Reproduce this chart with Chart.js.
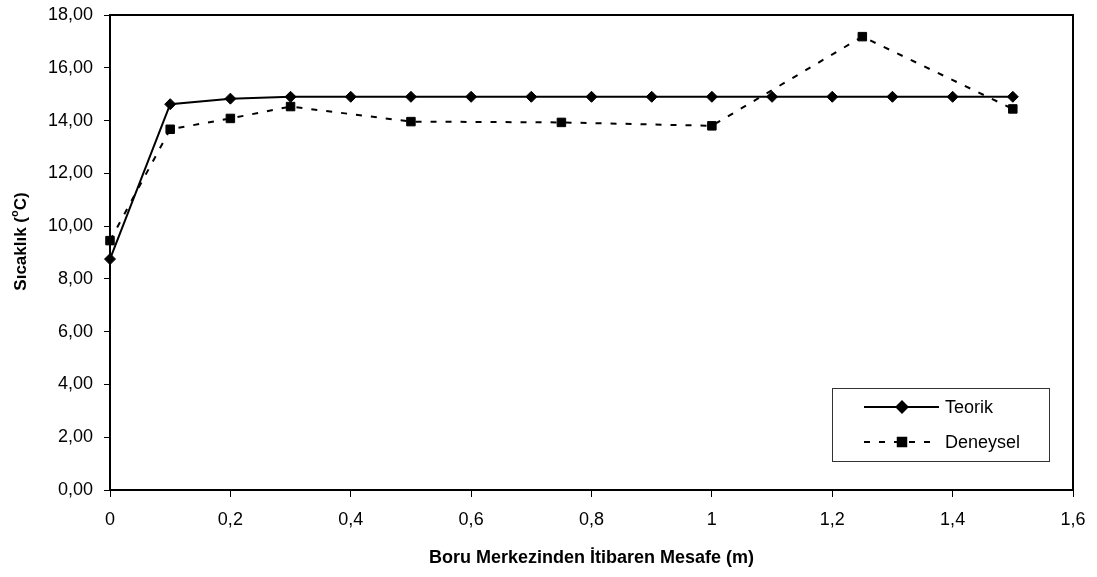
<!DOCTYPE html>
<html>
<head>
<meta charset="utf-8">
<script src="https://cdn.jsdelivr.net/npm/chart.js@4"></script>
<style>
  html, body { margin: 0; padding: 0; background: #fff; }
  #wrap { width: 1097px; height: 577px; }
</style>
</head>
<body>
<div id="wrap"><canvas id="tempChart" width="1097" height="577"></canvas></div>
<script>
// distances (m) and temperatures (°C)
const teorikX = [0, 0.1, 0.2, 0.3, 0.4, 0.5, 0.6, 0.7, 0.8, 0.9, 1.0, 1.1, 1.2, 1.3, 1.4, 1.5];
const teorikY = [8.75, 14.62, 14.83, 14.90, 14.90, 14.90, 14.90, 14.90, 14.90, 14.90, 14.90, 14.90, 14.90, 14.90, 14.90, 14.90];
const deneyselX = [0, 0.1, 0.2, 0.3, 0.5, 0.75, 1.0, 1.25, 1.5];
const deneyselY = [9.45, 13.67, 14.08, 14.53, 13.96, 13.93, 13.80, 17.18, 14.44];
const xTicks = [0, 0.2, 0.4, 0.6, 0.8, 1.0, 1.2, 1.4, 1.6];
const yTicks = [0, 2, 4, 6, 8, 10, 12, 14, 16, 18];

const FONT = '"Liberation Sans", Arial, sans-serif';
const toPoints = (xs, ys) => xs.map((x, i) => ({ x, y: ys[i] }));

// box around the plot area
const frame = {
    id: 'frame',
    afterDatasetsDraw(chart) {
        const { ctx, chartArea: a } = chart;
        ctx.save();
        ctx.strokeStyle = '#000';
        ctx.lineWidth = 2;
        ctx.strokeRect(a.left, a.top, a.right - a.left, a.bottom - a.top);
        ctx.restore();
    }
};

// rotated y title with superscript "o"
const yTitle = {
    id: 'yTitle',
    afterDraw(chart) {
        const { ctx, chartArea: a } = chart;
        const big = 'bold 17px ' + FONT;
        const small = 'bold 11px ' + FONT;
        const parts = [['Sıcaklık (', big, 0], ['o', small, -6], ['C)', big, 0]];
        ctx.save();
        let total = 0;
        parts.forEach(p => { ctx.font = p[1]; total += ctx.measureText(p[0]).width; });
        ctx.translate(21, (a.top + a.bottom) / 2 - 11);
        ctx.rotate(-Math.PI / 2);
        ctx.fillStyle = '#000';
        ctx.textBaseline = 'middle';
        let x = -total / 2;
        parts.forEach(p => {
            ctx.font = p[1];
            ctx.fillText(p[0], x, p[2]);
            x += ctx.measureText(p[0]).width;
        });
        ctx.restore();
    }
};

// legend box in the lower right of the plot
const legendBox = {
    id: 'legendBox',
    afterDraw(chart) {
        const { ctx, chartArea: a } = chart;
        const w = 217, h = 73;
        const left = a.right - 24 - w, top = a.bottom - 29 - h;
        ctx.save();
        ctx.fillStyle = '#fff';
        ctx.fillRect(left, top, w, h);
        ctx.strokeStyle = '#333';
        ctx.lineWidth = 1;
        ctx.strokeRect(left + 0.5, top + 0.5, w, h);
        chart.data.datasets.forEach((ds, i) => {
            const y = top + 19 + i * 35;
            ctx.strokeStyle = '#000';
            ctx.lineWidth = 2;
            ctx.setLineDash(ds.borderDash || []);
            ctx.beginPath();
            ctx.moveTo(left + 32, y);
            ctx.lineTo(left + 107, y);
            ctx.stroke();
            ctx.setLineDash([]);
            ctx.fillStyle = '#000';
            Chart.helpers.drawPoint(ctx, {
                pointStyle: ds.pointStyle,
                radius: ds.pointRadius,
                borderWidth: 1
            }, left + 70, y);
            ctx.font = '18px ' + FONT;
            ctx.textBaseline = 'middle';
            ctx.fillText(ds.label, left + 113, y + 1);
        });
        ctx.restore();
    }
};

new Chart(document.getElementById('tempChart'), {
    type: 'line',
    data: {
        datasets: [
            {
                label: 'Teorik',
                data: toPoints(teorikX, teorikY),
                borderColor: '#000',
                backgroundColor: '#000',
                borderWidth: 2,
                pointStyle: 'rectRot',
                pointRadius: 5.5,
                pointBorderWidth: 1,
                tension: 0,
                clip: false
            },
            {
                label: 'Deneysel',
                data: toPoints(deneyselX, deneyselY),
                borderColor: '#000',
                backgroundColor: '#000',
                borderWidth: 2,
                borderDash: [6, 9],
                pointStyle: 'rect',
                pointRadius: 6,
                pointBorderWidth: 1,
                tension: 0,
                clip: false
            }
        ]
    },
    options: {
        responsive: false,
        animation: false,
        layout: { padding: { top: 15, right: 24, left: 0, bottom: 0 } },
        plugins: {
            legend: { display: false },
            tooltip: { enabled: false }
        },
        scales: {
            x: {
                type: 'linear',
                min: 0,
                max: 1.6,
                afterBuildTicks: s => { s.ticks = xTicks.map(v => ({ value: v })); },
                afterFit: s => { s.height = 87; s.paddingLeft = 0; s.paddingRight = 0; },
                grid: { drawOnChartArea: false, color: '#000', tickLength: 7, tickWidth: 1 },
                border: { color: '#000', width: 2 },
                ticks: {
                    color: '#000',
                    padding: 12,
                    font: { family: FONT, size: 18 },
                    callback: v => String(Math.round(v * 10) / 10).replace('.', ',')
                },
                title: {
                    display: true,
                    text: 'Boru Merkezinden İtibaren Mesafe (m)',
                    color: '#000',
                    font: { family: FONT, size: 18, weight: 'bold' },
                    padding: { top: 0, bottom: 8 }
                }
            },
            y: {
                min: 0,
                max: 18,
                afterBuildTicks: s => { s.ticks = yTicks.map(v => ({ value: v })); },
                afterFit: s => { s.width = 110; s.paddingTop = 0; s.paddingBottom = 0; },
                grid: { drawOnChartArea: false, color: '#000', tickLength: 6, tickWidth: 1 },
                border: { color: '#000', width: 2 },
                ticks: {
                    color: '#000',
                    padding: 11,
                    font: { family: FONT, size: 18 },
                    callback: v => v.toFixed(2).replace('.', ',')
                }
            }
        }
    },
    plugins: [frame, yTitle, legendBox]
});
</script>
</body>
</html>
